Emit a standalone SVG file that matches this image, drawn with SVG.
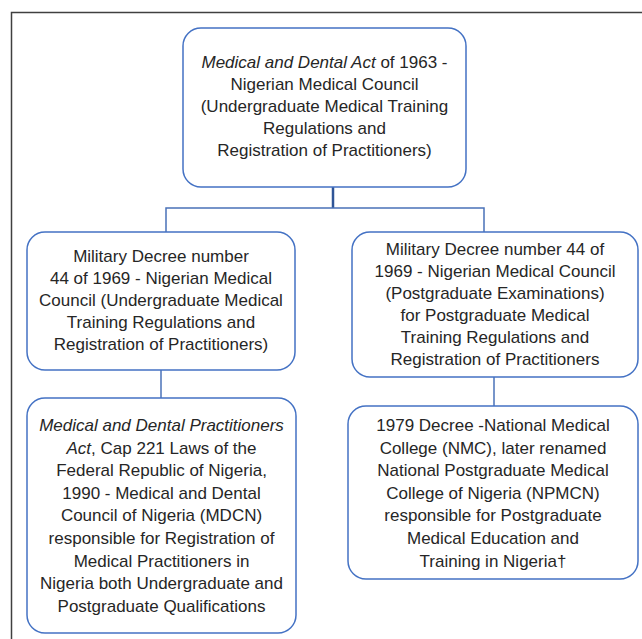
<svg xmlns="http://www.w3.org/2000/svg" width="642" height="639" viewBox="0 0 642 639">
<style>
.box{fill:#fff;stroke:#4472c4;stroke-width:1.5}
.t{font-family:"Liberation Sans",Arial,sans-serif;font-size:17px;fill:#262626;text-anchor:middle}
.i{font-style:italic}
.c{fill:none;stroke:#4a72b8;stroke-width:1.5}
</style>
<rect width="642" height="639" fill="#fff"/>
<path d="M11.5 639 V12.5 H642" fill="none" stroke="#404040" stroke-width="1.5"/>
<g id="connectors">
<path d="M333 187 V208" fill="none" stroke="#2f5597" stroke-width="2.5"/>
<path class="c" d="M166 232 V208 H484 V232"/>
<path class="c" d="M161 370 V398"/>
<path class="c" d="M494 377 V406"/>
</g>
<g id="n1">
<rect class="box" x="183" y="28" width="283" height="159" rx="18"/>
<text class="t" x="324.5" y="68"><tspan class="i">Medical and Dental Act</tspan> of 1963 -</text>
<text class="t" x="324.5" y="90">Nigerian Medical Council</text>
<text class="t" x="324.5" y="112">(Undergraduate Medical Training</text>
<text class="t" x="324.5" y="134">Regulations and</text>
<text class="t" x="324.5" y="156">Registration of Practitioners)</text>
</g>
<g id="n2">
<rect class="box" x="27" y="232" width="268" height="138" rx="18"/>
<text class="t" x="161" y="262">Military Decree number</text>
<text class="t" x="161" y="284">44 of 1969 - Nigerian Medical</text>
<text class="t" x="161" y="306">Council (Undergraduate Medical</text>
<text class="t" x="161" y="328">Training Regulations and</text>
<text class="t" x="161" y="350">Registration of Practitioners)</text>
</g>
<g id="n3">
<rect class="box" x="352" y="232" width="286" height="145" rx="18"/>
<text class="t" x="495" y="255">Military Decree number 44 of</text>
<text class="t" x="495" y="277">1969 - Nigerian Medical Council</text>
<text class="t" x="495" y="299">(Postgraduate Examinations)</text>
<text class="t" x="495" y="321">for Postgraduate Medical</text>
<text class="t" x="495" y="343">Training Regulations and</text>
<text class="t" x="495" y="365">Registration of Practitioners</text>
</g>
<g id="n4">
<rect class="box" x="27" y="398" width="269" height="235" rx="18"/>
<text class="t i" x="161.5" y="431">Medical and Dental Practitioners</text>
<text class="t" x="161.5" y="453.6"><tspan class="i">Act</tspan>, Cap 221 Laws of the</text>
<text class="t" x="161.5" y="476.2">Federal Republic of Nigeria,</text>
<text class="t" x="161.5" y="498.8">1990 - Medical and Dental</text>
<text class="t" x="161.5" y="521.4">Council of Nigeria (MDCN)</text>
<text class="t" x="161.5" y="544">responsible for Registration of</text>
<text class="t" x="161.5" y="566.6">Medical Practitioners in</text>
<text class="t" x="161.5" y="589.2">Nigeria both Undergraduate and</text>
<text class="t" x="161.5" y="611.8">Postgraduate Qualifications</text>
</g>
<g id="n5">
<rect class="box" x="348" y="406" width="290" height="173" rx="18"/>
<text class="t" x="493" y="431">1979 Decree -National Medical</text>
<text class="t" x="493" y="453.6">College (NMC), later renamed</text>
<text class="t" x="493" y="476.2">National Postgraduate Medical</text>
<text class="t" x="493" y="498.8">College of Nigeria (NPMCN)</text>
<text class="t" x="493" y="521.4">responsible for Postgraduate</text>
<text class="t" x="493" y="544">Medical Education and</text>
<text class="t" x="493" y="566.6">Training in Nigeria†</text>
</g>
</svg>
